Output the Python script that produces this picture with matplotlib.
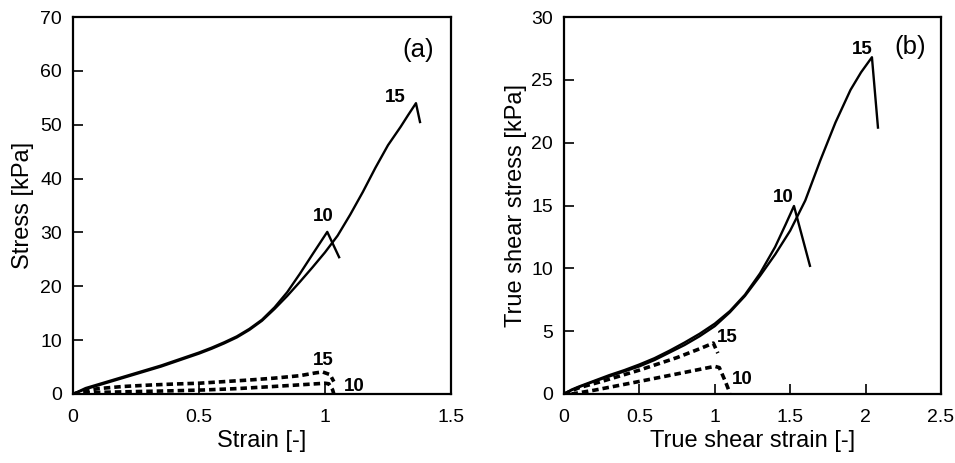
import matplotlib
matplotlib.use("Agg")
import matplotlib.pyplot as plt

plt.rcParams['font.family'] = ['Liberation Sans', 'DejaVu Sans']

# ---- Panel (a): Stress vs Strain ----
a_s15_x = [0, 0.05, 0.1, 0.15, 0.2, 0.25, 0.3, 0.35, 0.4, 0.45, 0.5, 0.55, 0.6, 0.65, 0.7, 0.75, 0.8, 0.85, 0.9, 0.95, 1.0, 1.05, 1.1, 1.15, 1.2, 1.25, 1.3, 1.33, 1.361, 1.377]
a_s15_y = [0, 0.9, 1.6, 2.3, 3.0, 3.7, 4.4, 5.1, 5.9, 6.7, 7.5, 8.4, 9.4, 10.5, 11.9, 13.6, 15.8, 18.2, 20.8, 23.5, 26.3, 29.4, 33.3, 37.5, 42.0, 46.2, 49.6, 51.8, 54.0, 50.5]
a_s10_x = [0, 0.05, 0.1, 0.15, 0.2, 0.25, 0.3, 0.35, 0.4, 0.45, 0.5, 0.55, 0.6, 0.65, 0.7, 0.75, 0.8, 0.85, 0.9, 0.95, 1.009, 1.056]
a_s10_y = [0, 1.1, 1.8, 2.5, 3.2, 3.9, 4.6, 5.3, 6.1, 6.9, 7.7, 8.6, 9.6, 10.7, 12.1, 13.8, 16.1, 18.9, 22.3, 25.9, 30.1, 25.4]
a_d15_x = [0, 0.05, 0.1, 0.2, 0.3, 0.4, 0.5, 0.6, 0.7, 0.8, 0.9, 0.96, 0.99, 1.02, 1.035]
a_d15_y = [0, 0.6, 1.0, 1.4, 1.65, 1.85, 2.0, 2.3, 2.6, 2.95, 3.4, 3.9, 4.1, 3.6, 2.3]
a_d10_x = [0, 0.1, 0.25, 0.4, 0.52, 0.65, 0.78, 0.9, 1.0, 1.015, 1.03, 1.035]
a_d10_y = [0, 0.3, 0.45, 0.6, 0.75, 1.0, 1.35, 1.7, 2.0, 1.9, 0.8, 0.0]

# ---- Panel (b): True shear stress vs True shear strain ----
b_s15_x = [0, 0.05, 0.1, 0.2, 0.3, 0.4, 0.5, 0.6, 0.7, 0.8, 0.9, 1.0, 1.1, 1.2, 1.3, 1.4, 1.5, 1.6, 1.7, 1.8, 1.9, 1.97, 2.042, 2.082]
b_s15_y = [0, 0.3, 0.55, 1.0, 1.4, 1.8, 2.2, 2.7, 3.3, 3.9, 4.6, 5.4, 6.5, 7.8, 9.4, 11.1, 13.0, 15.4, 18.6, 21.6, 24.2, 25.6, 26.8, 21.2]
b_s10_x = [0, 0.05, 0.1, 0.2, 0.3, 0.4, 0.5, 0.6, 0.7, 0.8, 0.9, 1.0, 1.1, 1.2, 1.3, 1.4, 1.47, 1.525, 1.631]
b_s10_y = [0, 0.35, 0.6, 1.05, 1.5, 1.9, 2.35, 2.85, 3.45, 4.1, 4.8, 5.6, 6.6, 7.9, 9.6, 11.7, 13.5, 14.96, 10.2]
b_d15_x = [0, 0.1, 0.25, 0.5, 0.75, 0.9, 0.99, 1.02]
b_d15_y = [0, 0.5, 1.0, 1.9, 2.9, 3.6, 4.05, 3.25]
b_d10_x = [0.05, 0.2, 0.5, 0.75, 1.0, 1.03, 1.07, 1.1]
b_d10_y = [0.0, 0.3, 1.0, 1.6, 2.2, 2.1, 1.0, 0.08]

a_xticks = [0, 0.5, 1, 1.5]
a_xticklabels = ['0', '0.5', '1', '1.5']
a_yticks = [0, 10, 20, 30, 40, 50, 60, 70]
b_xticks = [0, 0.5, 1, 1.5, 2, 2.5]
b_xticklabels = ['0', '0.5', '1', '1.5', '2', '2.5']
b_yticks = [0, 5, 10, 15, 20, 25, 30]

fig = plt.figure(figsize=(9.55, 4.63), dpi=100)
axa = fig.add_axes([73/955, 1-394/463, 378/955, 377/463])
axb = fig.add_axes([564/955, 1-394/463, 377/955, 377/463])

solid_kw = dict(color='black', lw=1.7, solid_joinstyle='round')
dash_kw = dict(color='black', lw=2.6, dashes=(1.8, 1.1))

axa.plot(a_s15_x, a_s15_y, **solid_kw)
axa.plot(a_s10_x, a_s10_y, **solid_kw)
axa.plot(a_d15_x, a_d15_y, **dash_kw)
axa.plot(a_d10_x, a_d10_y, **dash_kw)

axb.plot(b_s15_x, b_s15_y, **solid_kw)
axb.plot(b_s10_x, b_s10_y, **solid_kw)
axb.plot(b_d15_x, b_d15_y, **dash_kw)
axb.plot(b_d10_x, b_d10_y, **dash_kw)

lbl_kw = dict(fontsize=13.5, fontweight='bold', ha='center', va='center')
axa.text(1.278, 55.1, '15', **lbl_kw)
axa.text(0.992, 32.9, '10', **lbl_kw)
axa.text(0.992, 6.3, '15', **lbl_kw)
axa.text(1.115, 1.3, '10', **lbl_kw)
axb.text(1.976, 27.4, '15', **lbl_kw)
axb.text(1.452, 15.6, '10', **lbl_kw)
axb.text(1.081, 4.46, '15', **lbl_kw)
axb.text(1.180, 1.19, '10', **lbl_kw)

axa.text(1.37, 63.9, '(a)', fontsize=18.5, ha='center', va='center')
axb.text(2.294, 27.6, '(b)', fontsize=18.5, ha='center', va='center')

axa.set_xlim(0, 1.5)
axa.set_ylim(0, 70)
axa.set_xticks(a_xticks)
axa.set_xticklabels(a_xticklabels)
axa.set_yticks(a_yticks)
axa.set_xlabel('Strain [-]', fontsize=17, labelpad=3)
axa.set_ylabel('Stress [kPa]', fontsize=17, labelpad=4)

axb.set_xlim(0, 2.5)
axb.set_ylim(0, 30)
axb.set_xticks(b_xticks)
axb.set_xticklabels(b_xticklabels)
axb.set_yticks(b_yticks)
axb.set_xlabel('True shear strain [-]', fontsize=17, labelpad=3)
axb.set_ylabel('True shear stress [kPa]', fontsize=17, labelpad=3)

for ax in (axa, axb):
    ax.tick_params(direction='in', length=7, width=1.2, labelsize=14,
                   top=False, right=False)
    ax.tick_params(axis='x', pad=11)
    ax.tick_params(axis='y', pad=8)
    for sp in ax.spines.values():
        sp.set_linewidth(1.6)

fig.savefig('out.png', dpi=100)
